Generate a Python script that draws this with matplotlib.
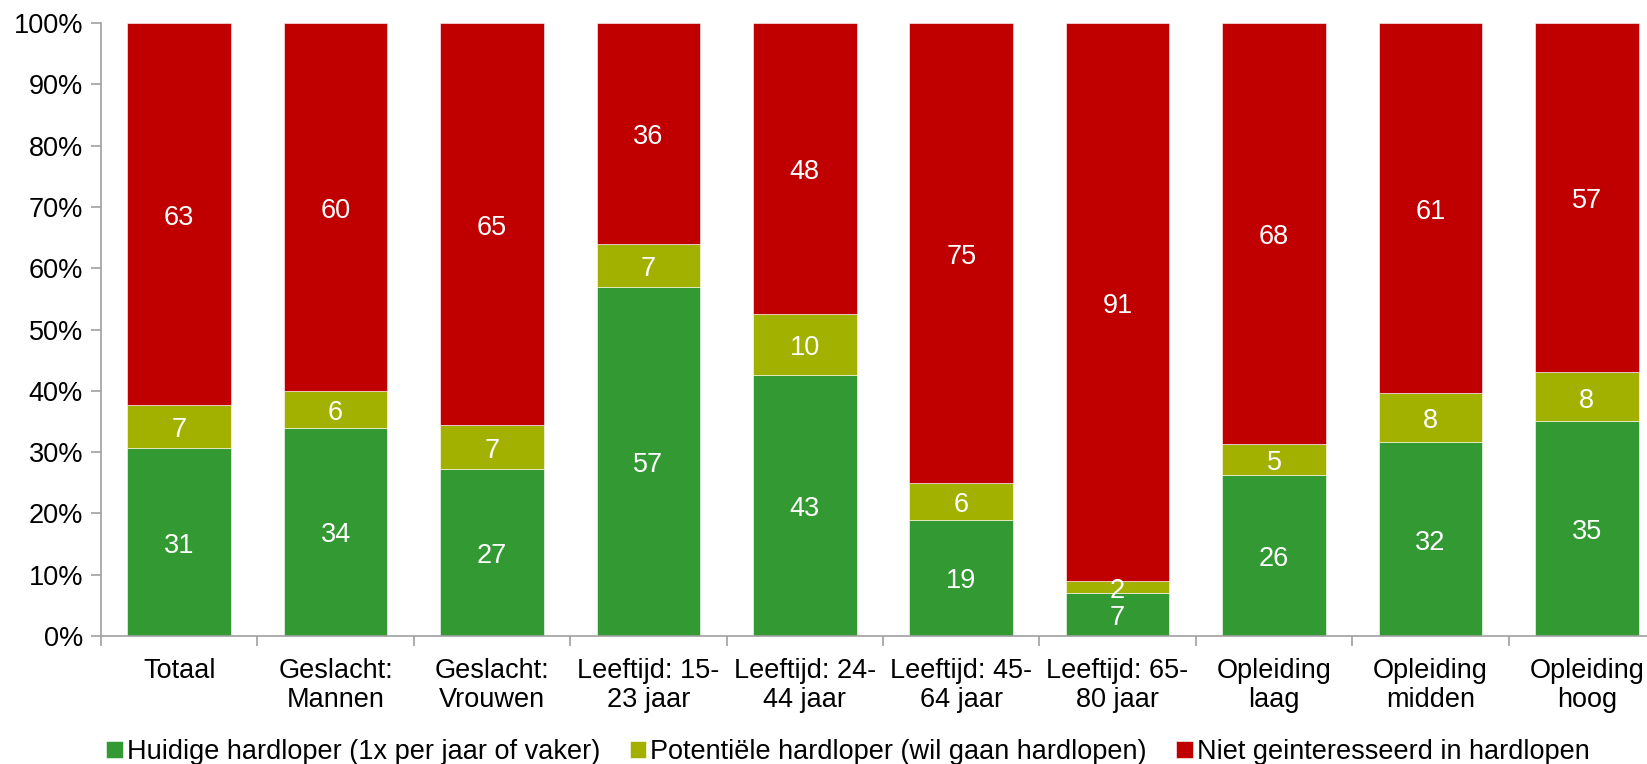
import numpy as np
import matplotlib
matplotlib.use("Agg")
import matplotlib.pyplot as plt
from matplotlib.ticker import PercentFormatter

plt.rcParams['font.family'] = ['Liberation Sans', 'DejaVu Sans']

categories = ['Totaal', 'Geslacht:\nMannen', 'Geslacht:\nVrouwen', 'Leeftijd: 15-\n23 jaar',
              'Leeftijd: 24-\n44 jaar', 'Leeftijd: 45-\n64 jaar', 'Leeftijd: 65-\n80 jaar',
              'Opleiding\nlaag', 'Opleiding\nmidden', 'Opleiding\nhoog']
huidig = [31, 34, 27, 57, 43, 19, 7, 26, 32, 35]
potentieel = [7, 6, 7, 7, 10, 6, 2, 5, 8, 8]
niet = [63, 60, 65, 36, 48, 75, 91, 68, 61, 57]
series_names = ['Huidige hardloper (1x per jaar of vaker)',
                'Potentiële hardloper (wil gaan hardlopen)',
                'Niet geinteresseerd in hardlopen']
colors = ['#339933', '#A2B000', '#C00000']

W, H = 1647, 764
fs = 19.5
fig = plt.figure(figsize=(W / 100, H / 100), dpi=100)
# axis runs a bit past the right edge, as in the original
ax = fig.add_axes([101 / W, 1 - 636 / H, 1564 / W, 613 / H])

data = np.array([huidig, potentieel, niet], dtype=float)
totals = data.sum(axis=0)
shares = data / totals * 100
x = np.arange(len(categories))
bottom = np.zeros(len(categories))
for vals, share, name, col in zip(data, shares, series_names, colors):
    ax.bar(x, share, bottom=bottom, width=0.663, color=col, label=name,
           edgecolor='white', linewidth=0.4)
    for xi, b, s, v in zip(x, bottom, share, vals):
        ax.text(xi, b + s / 2 - 0.6, f'{int(v)}', ha='center', va='center',
                color='white', fontsize=fs)
    bottom += share

ax.set_xlim(-0.5, len(categories) - 0.5)
ax.set_ylim(0, 100)
ax.set_yticks(np.arange(0, 101, 10))
ax.yaxis.set_major_formatter(PercentFormatter(decimals=0))
ax.set_xticks(np.arange(-0.5, len(categories), 1))
ax.set_xticklabels([])
ax.set_xticks(x, minor=True)
ax.set_xticklabels(categories, minor=True, fontsize=fs, linespacing=1.15)
ax.tick_params(axis='x', which='minor', length=0, pad=16)
ax.tick_params(axis='x', which='major', length=7, color='#A0A0A0', width=1.2)
ax.tick_params(axis='y', length=7, color='#A0A0A0', width=1.2, labelsize=fs, pad=6)
for side in ['top', 'right']:
    ax.spines[side].set_visible(False)
for side in ['left', 'bottom']:
    ax.spines[side].set_color('#A0A0A0')
    ax.spines[side].set_linewidth(1.2)

fig.legend(loc='center', bbox_to_anchor=(848 / W, 1 - 752 / H), ncol=3, frameon=False,
           fontsize=fs, handlelength=0.6, handleheight=0.6, handletextpad=0.15,
           columnspacing=1.1)

fig.savefig('out.png', dpi=100)
